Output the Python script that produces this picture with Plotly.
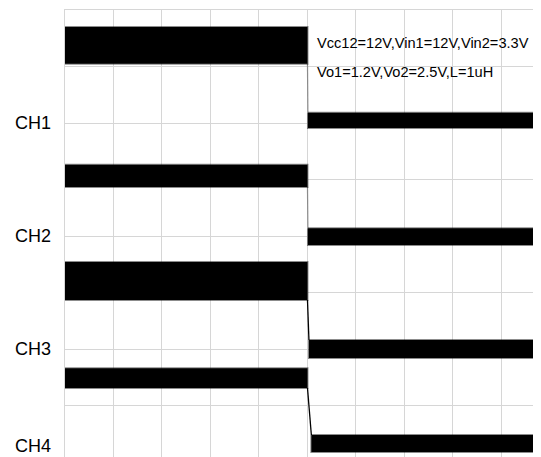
import plotly.graph_objects as go

# ---- data (time in divisions, amplitude in divisions) ----
channels = ["CH1", "CH2", "CH3", "CH4"]
step_time = 5.0
settle_time = [5.01, 5.01, 5.03, 5.08]
before_hi = [3.70, 1.26, -0.46, -2.34]
before_lo = [3.05, 0.87, -1.13, -2.69]
after_hi = [2.18, 0.14, -1.84, -3.52]
after_lo = [1.91, -0.16, -2.16, -3.82]
label_level = [2.0, 0.0, -2.0, -3.72]
note_lines = ["Vcc12=12V,Vin1=12V,Vin2=3.3V", "Vo1=1.2V,Vo2=2.5V,L=1uH"]
note_time = 5.16
note_level = [3.42, 2.90]

# ---- styles ----
edge_colors = ["rgba(0,0,0,0.35)", "rgba(0,0,0,0.35)", "black", "black"]
grid = "#d6d6d6"
x_end = 9.98
y_bottom = -3.91

fig = go.Figure()
for i, ch in enumerate(channels):
    # transition edge
    fig.add_trace(go.Scatter(
        x=[step_time, settle_time[i]],
        y=[before_lo[i], after_hi[i]],
        mode="lines", line=dict(color=edge_colors[i], width=1.3),
        hoverinfo="skip", showlegend=False))
    # noisy trace before the step, drawn as its envelope band
    fig.add_trace(go.Scatter(
        x=[0, step_time, step_time, 0, 0],
        y=[before_hi[i], before_hi[i], before_lo[i], before_lo[i], before_hi[i]],
        fill="toself", fillcolor="black", mode="lines",
        line=dict(color="rgba(0,0,0,0.45)", width=2), hoverinfo="skip", showlegend=False))
    # noisy trace after the step
    fig.add_trace(go.Scatter(
        x=[settle_time[i], x_end, x_end, settle_time[i], settle_time[i]],
        y=[after_hi[i], after_hi[i], after_lo[i], after_lo[i], after_hi[i]],
        fill="toself", fillcolor="black", mode="lines",
        line=dict(color="rgba(0,0,0,0.45)", width=2), hoverinfo="skip", showlegend=False))
    fig.add_annotation(x=0, xref="paper", y=label_level[i], yref="y",
                       text=ch, showarrow=False, xanchor="right", yanchor="middle",
                       xshift=-12,
                       font=dict(family="Liberation Sans, Arial", size=18, color="black"))

for txt, lvl in zip(note_lines, note_level):
    fig.add_annotation(x=note_time, y=lvl, text=txt, showarrow=False,
                       xanchor="left", yanchor="middle",
                       font=dict(family="Liberation Sans, Arial", size=14.6, color="black"))

fig.update_layout(
    width=541, height=449,
    margin=dict(l=57, r=0, t=2, b=0),
    paper_bgcolor="white", plot_bgcolor="white",
    xaxis=dict(range=[0, x_end], dtick=1, tick0=0, showgrid=True, gridcolor=grid,
               gridwidth=1, zeroline=False, showticklabels=False, ticks="",
               showline=True, linecolor=grid, side="top", fixedrange=True),
    yaxis=dict(range=[y_bottom, 4], dtick=1, tick0=0, showgrid=True, gridcolor=grid,
               gridwidth=1, zeroline=False, showticklabels=False, ticks="",
               showline=True, linecolor=grid, fixedrange=True),
)

fig.write_html("out.html")
